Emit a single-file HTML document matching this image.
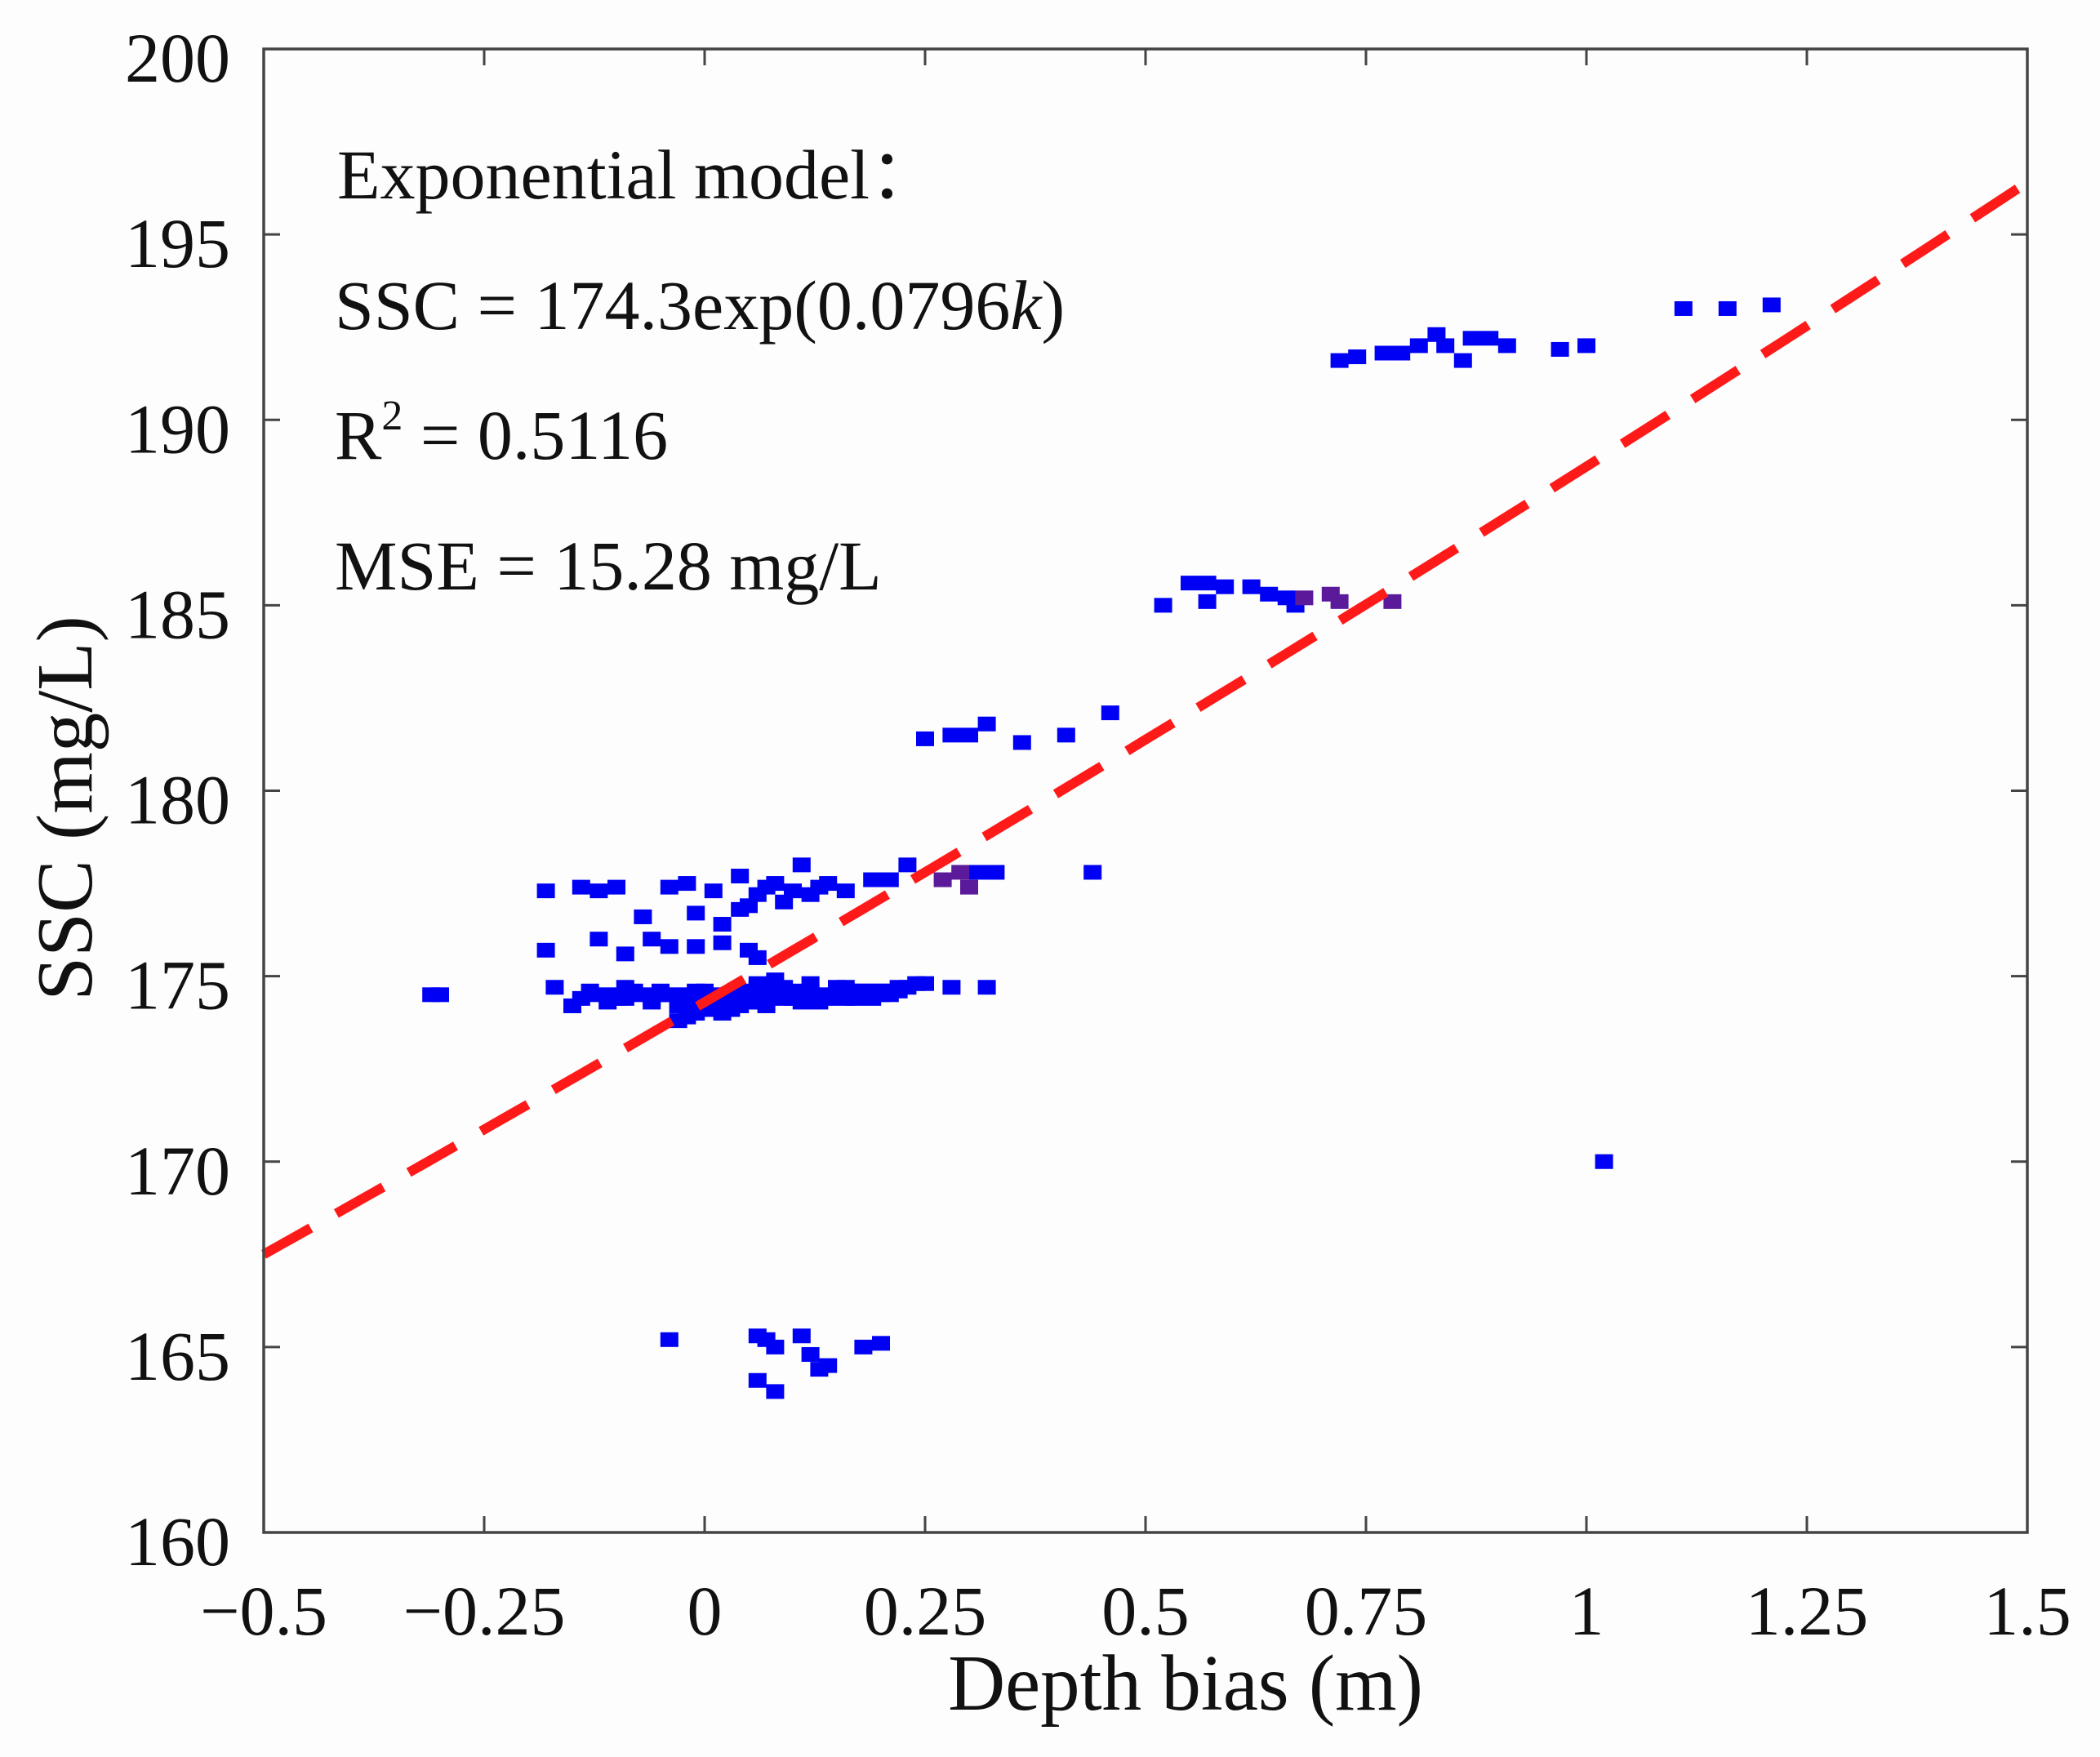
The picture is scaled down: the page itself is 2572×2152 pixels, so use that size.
<!DOCTYPE html>
<html>
<head>
<meta charset="utf-8">
<style>
  html,body{margin:0;padding:0;background:#fdfdfd;}
  svg{display:block;}
  text{font-family:"Liberation Serif","DejaVu Serif",serif;fill:#111;}
</style>
</head>
<body>
<svg id="chart" width="2572" height="2152" viewBox="0 0 2572 2152" xmlns="http://www.w3.org/2000/svg">
  <rect x="0" y="0" width="2572" height="2152" fill="#fdfdfd"/>
  <g id="marks"></g>
  <g id="axes"></g>
  <g>
    <text x="413" y="243" font-size="86">Exponential model：</text>
    <text x="410" y="403" font-size="86">SSC = 174.3exp(0.0796<tspan font-style="italic">k</tspan>)</text>
    <text x="410" y="562" font-size="86">R<tspan font-size="52" dy="-36">2</tspan><tspan dy="36"> = 0.5116</tspan></text>
    <text x="410" y="722" font-size="86">MSE = 15.28 mg/L</text>
  </g>
  <text x="1452" y="2094" font-size="97" text-anchor="middle">Depth bias (m)</text>
  <text transform="translate(112,990) rotate(-90)" font-size="97" text-anchor="middle">SSC (mg/L)</text>
</svg>
<script>
const xTicks = [-0.5, -0.25, 0, 0.25, 0.5, 0.75, 1, 1.25, 1.5];
const xTickLabels = ["\u22120.5", "\u22120.25", "0", "0.25", "0.5", "0.75", "1", "1.25", "1.5"];
const yTicks = [160, 165, 170, 175, 180, 185, 190, 195, 200];
const yTickLabels = ["160", "165", "170", "175", "180", "185", "190", "195", "200"];
const fitA = 174.3;
const fitB = 0.0796;
const blueX = [
  -0.31,-0.30,-0.17,-0.15,-0.12,-0.10,-0.08,-0.06,-0.04,-0.02,0.00,0.02,0.04,0.06,0.08,0.10,0.12,0.14,0.16,0.18,0.20,0.22,0.24,0.28,0.32,
  -0.11,-0.07,-0.03,0.01,0.05,0.09,0.13,0.17,0.21,-0.09,-0.05,-0.01,0.03,0.07,0.11,0.15,0.19,-0.02,0.00,0.02,0.04,0.06,
  -0.13,-0.09,-0.05,-0.01,0.03,0.07,0.11,0.15,0.19,0.23,-0.14,-0.10,-0.06,-0.02,0.02,0.06,0.10,0.14,0.18,0.22,
  0.01,0.03,0.05,0.07,0.09,-0.03,-0.01,0.13,0.17,0.21,0.25,0.04,0.08,0.12,0.16,0.20,
  -0.18,-0.14,-0.12,-0.10,-0.04,-0.02,0.01,0.04,0.06,0.07,0.08,0.10,0.11,0.12,0.14,0.16,0.19,0.21,0.23,0.31,0.33,0.13,0.09,0.05,
  -0.18,-0.12,-0.09,-0.06,-0.04,-0.01,0.02,0.05,0.06,-0.07,-0.01,0.04,0.02,
  0.25,0.28,0.30,0.32,0.36,0.41,0.46,0.44,
  0.52,0.55,0.57,0.59,0.57,0.62,0.64,0.66,0.67,
  0.72,0.74,0.77,0.79,0.81,0.83,0.84,0.86,0.87,0.89,0.91,0.97,1.00,1.11,1.16,1.21,
  1.02,
  -0.04,0.06,0.07,0.08,0.06,0.08,0.11,0.12,0.14,0.13,0.18,0.20
];
const blueY = [
  174.5,174.5,174.7,174.2,174.5,174.4,174.6,174.3,174.5,174.4,174.6,174.5,174.3,174.7,174.5,174.4,174.6,174.5,174.4,174.6,174.6,174.7,174.8,174.7,174.7,
  174.3,174.5,174.2,174.4,174.3,174.7,174.4,174.6,174.5,174.7,174.6,174.0,174.2,174.6,174.3,174.5,174.4,173.9,174.1,174.0,174.2,174.8,
  174.6,174.4,174.5,174.6,174.5,174.4,174.6,174.7,174.6,174.7,174.4,174.5,174.4,174.5,174.3,174.5,174.5,174.4,174.5,174.6,
  174.2,174.1,174.3,174.2,174.4,173.8,174.3,174.3,174.4,174.6,174.8,174.6,174.9,174.8,174.7,174.5,
  177.3,177.4,177.3,177.4,177.4,177.5,177.3,177.7,177.2,177.4,177.5,177.3,178.0,177.2,177.5,177.3,177.6,177.6,178.0,177.8,177.8,177.4,177.0,176.9,
  175.7,176.0,175.6,176.0,175.8,175.8,175.9,175.7,175.5,176.6,176.7,176.8,176.4,
  181.4,181.5,181.5,181.8,181.3,181.5,182.1,177.8,
  185.0,185.6,185.6,185.5,185.1,185.5,185.3,185.2,185.0,
  191.6,191.7,191.8,191.8,192.0,192.3,192.0,191.6,192.2,192.2,192.0,191.9,192.0,193.0,193.0,193.1,
  170.0,
  165.2,165.3,165.2,165.0,164.1,163.8,165.3,164.8,164.5,164.4,165.0,165.1
];
const purpleX = [0.27,0.29,0.30,0.68,0.71,0.72,0.78];
const purpleY = [177.6,177.8,177.4,185.2,185.3,185.1,185.1];

const L=323, R=2483, T=60, B=1877;
const sx = v => L + (v - (-0.5)) / 2 * (R - L);
const sy = v => B - (v - 160) / 40 * (B - T);
const NS = "http://www.w3.org/2000/svg";
const marks = document.getElementById('marks');
const axes = document.getElementById('axes');

let d = "";
for (let i = 0; i <= 100; i++) {
  const k = -0.5 + 2 * i / 100;
  d += (i ? "L" : "M") + sx(k).toFixed(1) + "," + sy(fitA * Math.exp(fitB * k)).toFixed(1);
}

const SW = 22, SH = 18;
for (let i = 0; i < blueX.length; i++) {
  const r = document.createElementNS(NS, 'rect');
  r.setAttribute('x', sx(blueX[i]) - SW/2);
  r.setAttribute('y', sy(blueY[i]) - SH/2);
  r.setAttribute('width', SW); r.setAttribute('height', SH);
  r.setAttribute('fill', '#0000f5');
  
  
  marks.appendChild(r);
}
for (let i = 0; i < purpleX.length; i++) {
  const r = document.createElementNS(NS, 'rect');
  r.setAttribute('x', sx(purpleX[i]) - SW/2);
  r.setAttribute('y', sy(purpleY[i]) - SH/2);
  r.setAttribute('width', SW); r.setAttribute('height', SH);
  r.setAttribute('fill', '#5a1a9a');
  
  
  marks.appendChild(r);
}
const fit = document.createElementNS(NS, 'path');
fit.setAttribute('d', d);
fit.setAttribute('fill', 'none');
fit.setAttribute('stroke', '#ff1a1a');
fit.setAttribute('stroke-width', '12');
fit.setAttribute('stroke-dasharray', '66 36');


marks.appendChild(fit);

const box = document.createElementNS(NS, 'rect');
box.setAttribute('x', L); box.setAttribute('y', T);
box.setAttribute('width', R - L); box.setAttribute('height', B - T);
box.setAttribute('fill', 'none'); box.setAttribute('stroke', '#444'); box.setAttribute('stroke-width', '3.5');


axes.appendChild(box);

const TL = 20;
xTicks.forEach((v, i) => {
  const x = sx(v);
  const p = document.createElementNS(NS, 'path');
  p.setAttribute('d', `M${x},${B}V${B-TL}M${x},${T}V${T+TL}`);
  p.setAttribute('stroke', '#444'); p.setAttribute('stroke-width', '3');
  
  
  axes.appendChild(p);
  const t = document.createElementNS(NS, 'text');
  t.setAttribute('x', x); t.setAttribute('y', 2002);
  t.setAttribute('font-size', '86'); t.setAttribute('text-anchor', 'middle');
  t.textContent = xTickLabels[i];
  
  
  axes.appendChild(t);
});
yTicks.forEach((v, i) => {
  const y = sy(v);
  const p = document.createElementNS(NS, 'path');
  p.setAttribute('d', `M${L},${y}H${L+TL}M${R},${y}H${R-TL}`);
  p.setAttribute('stroke', '#444'); p.setAttribute('stroke-width', '3');
  
  
  axes.appendChild(p);
  const t = document.createElementNS(NS, 'text');
  t.setAttribute('x', 282); t.setAttribute('y', y + 40);
  t.setAttribute('font-size', '86'); t.setAttribute('text-anchor', 'end');
  t.textContent = yTickLabels[i];
  
  
  axes.appendChild(t);
});
</script>
</body>
</html>
